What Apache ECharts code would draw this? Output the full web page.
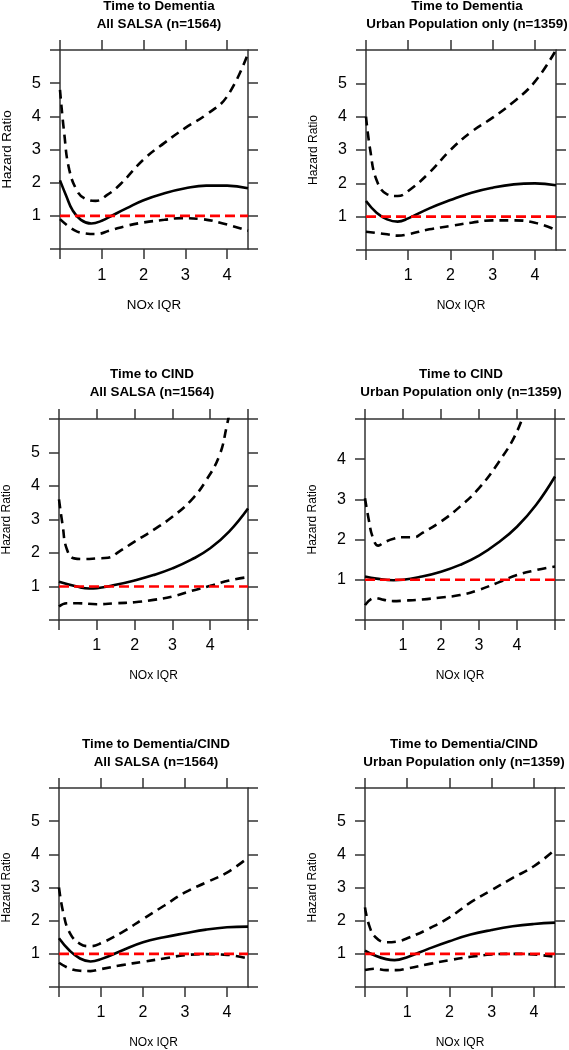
<!DOCTYPE html>
<html>
<head>
<meta charset="utf-8">
<script src="https://cdn.jsdelivr.net/npm/echarts@6/dist/echarts.min.js"></script>
<style>
html,body{margin:0;padding:0;background:#fff;}
#chart{width:569px;height:1050px;}
</style>
</head>
<body>
<div id="chart"></div>
<script>
// ---------- Titles ----------
const titleLine1 = ["Time to Dementia", "Time to Dementia", "Time to CIND", "Time to CIND", "Time to Dementia/CIND", "Time to Dementia/CIND"];
const titleLine2 = ["All SALSA (n=1564)", "Urban Population only (n=1359)", "All SALSA (n=1564)", "Urban Population only (n=1359)", "All SALSA (n=1564)", "Urban Population only (n=1359)"];
const xName = "NOx IQR";
const yName = "Hazard Ratio";

// ---------- Axis ranges / tick labels ----------
const xMax = [4.5, 4.5, 5, 5, 4.5, 4.5];
const yMax = [6, 6, 6, 5, 6, 6];
const xTickLabels = [1, 2, 3, 4];
const yTickLabels6 = [1, 2, 3, 4, 5];
const yTickLabels5 = [1, 2, 3, 4];
const referenceHR = 1;

// ---------- Panel 1: Dementia, All SALSA ----------
const p1EstX = [0, 0.15, 0.3, 0.5, 0.75, 1, 1.25, 1.6, 2, 2.5, 3, 3.5, 4, 4.5];
const p1EstY = [2.07, 1.6, 1.17, 0.88, 0.77, 0.85, 1.01, 1.23, 1.47, 1.68, 1.83, 1.91, 1.91, 1.83];
const p1UpX = [0, 0.1, 0.22, 0.42, 0.6, 0.85, 1.13, 1.45, 2, 2.5, 3, 3.5, 4, 4.5];
const p1UpY = [4.8, 3.5, 2.4, 1.73, 1.52, 1.45, 1.63, 1.96, 2.7, 3.2, 3.65, 4.05, 4.6, 5.9];
const p1LoX = [0, 0.34, 0.6, 0.86, 1.2, 1.6, 2, 2.5, 2.9, 3.4, 3.9, 4.5];
const p1LoY = [0.9, 0.57, 0.47, 0.45, 0.56, 0.7, 0.8, 0.88, 0.93, 0.9, 0.77, 0.55];

// ---------- Panel 2: Dementia, Urban ----------
const p2EstX = [0, 0.25, 0.5, 0.75, 1, 1.5, 2, 2.5, 3, 3.5, 4, 4.5];
const p2EstY = [1.47, 1.12, 0.92, 0.85, 0.95, 1.25, 1.5, 1.72, 1.87, 1.97, 2.0, 1.94];
const p2UpX = [0, 0.1, 0.25, 0.5, 0.75, 1, 1.5, 2, 2.5, 3, 3.5, 4, 4.5];
const p2UpY = [4.0, 3.0, 2.1, 1.67, 1.62, 1.77, 2.32, 3.0, 3.55, 3.97, 4.45, 5.05, 6.0];
const p2LoX = [0, 0.5, 0.75, 1, 1.5, 2, 2.5, 3, 3.5, 4, 4.5];
const p2LoY = [0.55, 0.47, 0.43, 0.47, 0.62, 0.72, 0.82, 0.89, 0.89, 0.82, 0.6];

// ---------- Panel 3: CIND, All SALSA ----------
const p3EstX = [0, 0.5, 0.8, 1, 1.5, 2, 2.5, 3, 3.5, 4, 4.5, 5];
const p3EstY = [1.14, 0.99, 0.94, 0.95, 1.05, 1.18, 1.34, 1.54, 1.8, 2.14, 2.64, 3.33];
const p3UpX = [0, 0.1, 0.2, 0.4, 0.7, 1, 1.3, 1.6, 2, 2.5, 3, 3.5, 3.9, 4.25, 4.43, 4.6];
const p3UpY = [3.6, 2.8, 2.14, 1.84, 1.82, 1.84, 1.86, 2.05, 2.34, 2.69, 3.08, 3.58, 4.18, 4.93, 5.75, 6.7];
const p3LoX = [0, 0.2, 0.5, 1, 1.5, 2, 2.5, 3, 3.5, 4, 4.5, 5];
const p3LoY = [0.4, 0.5, 0.5, 0.47, 0.5, 0.53, 0.6, 0.7, 0.87, 1.02, 1.18, 1.28];

// ---------- Panel 4: CIND, Urban ----------
const p4EstX = [0, 0.3, 0.75, 1, 1.5, 2, 2.5, 3, 3.5, 4, 4.5, 5];
const p4EstY = [1.08, 1.03, 0.99, 1.0, 1.08, 1.2, 1.37, 1.6, 1.92, 2.32, 2.86, 3.57];
const p4UpX = [0, 0.1, 0.2, 0.35, 0.5, 0.75, 1, 1.3, 1.5, 2, 2.5, 3, 3.5, 4, 4.3];
const p4UpY = [3.03, 2.49, 2.07, 1.85, 1.93, 2.02, 2.06, 2.06, 2.16, 2.45, 2.82, 3.28, 3.9, 4.69, 5.5];
const p4LoX = [0, 0.25, 0.5, 0.75, 1, 1.5, 2, 2.5, 3, 3.5, 4, 4.5, 5];
const p4LoY = [0.37, 0.55, 0.5, 0.47, 0.48, 0.51, 0.56, 0.62, 0.75, 0.93, 1.12, 1.24, 1.33];

// ---------- Panel 5: Dementia/CIND, All SALSA ----------
const p5EstX = [0, 0.25, 0.5, 0.75, 1, 1.5, 2, 2.5, 3, 3.5, 4, 4.5];
const p5EstY = [1.47, 1.1, 0.86, 0.77, 0.84, 1.1, 1.35, 1.5, 1.62, 1.73, 1.8, 1.82];
const p5UpX = [0, 0.1, 0.25, 0.5, 0.75, 1, 1.5, 2, 2.5, 3, 3.5, 4, 4.5];
const p5UpY = [3.0, 2.25, 1.65, 1.3, 1.23, 1.32, 1.65, 2.05, 2.45, 2.85, 3.15, 3.45, 3.9];
const p5LoX = [0, 0.25, 0.5, 0.75, 1, 1.5, 2, 2.5, 3, 3.5, 4, 4.5];
const p5LoY = [0.73, 0.56, 0.49, 0.48, 0.54, 0.66, 0.76, 0.86, 0.96, 0.99, 0.97, 0.86];

// ---------- Panel 6: Dementia/CIND, Urban ----------
const p6EstX = [0, 0.25, 0.5, 0.7, 1, 1.5, 2, 2.5, 3, 3.5, 4, 4.5];
const p6EstY = [1.1, 0.94, 0.84, 0.81, 0.9, 1.15, 1.38, 1.58, 1.72, 1.83, 1.9, 1.94];
const p6UpX = [0, 0.1, 0.25, 0.5, 0.75, 1, 1.5, 2, 2.5, 3, 3.5, 4, 4.5];
const p6UpY = [2.4, 1.85, 1.5, 1.35, 1.37, 1.47, 1.75, 2.1, 2.55, 2.92, 3.29, 3.64, 4.14];
const p6LoX = [0, 0.25, 0.5, 0.75, 1, 1.5, 2, 2.5, 3, 3.5, 4, 4.5];
const p6LoY = [0.51, 0.55, 0.51, 0.51, 0.56, 0.69, 0.81, 0.91, 0.98, 1.0, 0.98, 0.91];

// ---------- Assemble ----------
const panelData = [
  {est:[p1EstX,p1EstY], up:[p1UpX,p1UpY], lo:[p1LoX,p1LoY]},
  {est:[p2EstX,p2EstY], up:[p2UpX,p2UpY], lo:[p2LoX,p2LoY]},
  {est:[p3EstX,p3EstY], up:[p3UpX,p3UpY], lo:[p3LoX,p3LoY]},
  {est:[p4EstX,p4EstY], up:[p4UpX,p4UpY], lo:[p4LoX,p4LoY]},
  {est:[p5EstX,p5EstY], up:[p5UpX,p5UpY], lo:[p5LoX,p5LoY]},
  {est:[p6EstX,p6EstY], up:[p6UpX,p6UpY], lo:[p6LoX,p6LoY]}
];

// layout (pixels)
const grids = [
  {left:59,  top:50,  width:189, height:199},
  {left:366, top:50,  width:190, height:200},
  {left:58,  top:419, width:190, height:201},
  {left:365, top:419, width:190, height:201},
  {left:58,  top:788, width:190, height:201},
  {left:365, top:788, width:190, height:201}
];
const titleCX = [159, 467, 152, 461, 156, 464];
const titleCY1 = [6, 6, 374.5, 374.5, 744, 744];
const titleGap = 18;
const nameFont = [13.4, 12, 12, 12, 12, 12];
const tickFont = [16.5, 16, 16, 16, 16, 16];

const FONT = "'Liberation Sans', Arial, Helvetica, sans-serif";
const AX = '#333333';

function zip(xs, ys){ return xs.map((x,i)=>[x, ys[i]]); }
function range(a,b){ const r=[]; for(let i=a;i<=b;i++) r.push(i); return r; }

const option = {
  animation:false,
  backgroundColor:'#ffffff',
  textStyle:{fontFamily:FONT},
  grid: grids.map(g=>Object.assign({containLabel:false}, g)),
  xAxis:[], yAxis:[], series:[], graphic:[]
};

grids.forEach((g, i) => {
  const xTicks = range(0, Math.floor(xMax[i]));
  const yTicks = range(0, yMax[i]);
  const yLabs = yMax[i] === 6 ? yTickLabels6 : yTickLabels5;
  const axLine = {show:true, onZero:false, lineStyle:{color:AX, width:1.5}};
  const tick = {show:true, inside:false, length:10, lineStyle:{color:AX, width:1.5}};
  option.xAxis.push({
    type:'value', gridIndex:i, position:'bottom', min:0, max:xMax[i],
    axisLine:axLine, splitLine:{show:false},
    axisTick:Object.assign({customValues:xTicks}, tick),
    axisLabel:{customValues:xTickLabels, margin:18, color:'#000', fontSize:tickFont[i], fontFamily:FONT},
    name:xName, nameLocation:'middle', nameGap:50,
    nameTextStyle:{color:'#000', fontSize:nameFont[i], fontFamily:FONT}
  });
  option.xAxis.push({
    type:'value', gridIndex:i, position:'top', min:0, max:xMax[i],
    axisLine:axLine, splitLine:{show:false},
    axisTick:Object.assign({customValues:xTicks}, tick),
    axisLabel:{show:false}
  });
  option.yAxis.push({
    type:'value', gridIndex:i, position:'left', min:0, max:yMax[i],
    axisLine:axLine, splitLine:{show:false},
    axisTick:Object.assign({customValues:yTicks}, tick),
    axisLabel:{customValues:yLabs, margin:19, color:'#000', fontSize:tickFont[i], fontFamily:FONT},
    name:yName, nameLocation:'middle', nameGap:46,
    nameTextStyle:{color:'#000', fontSize:nameFont[i], fontFamily:FONT}
  });
  option.yAxis.push({
    type:'value', gridIndex:i, position:'right', min:0, max:yMax[i],
    axisLine:axLine, splitLine:{show:false},
    axisTick:Object.assign({customValues:yTicks}, tick),
    axisLabel:{show:false}
  });

  const d = panelData[i];
  const common = {type:'line', xAxisIndex:i*2, yAxisIndex:i*2, showSymbol:false, symbol:'none', smooth:0.45, clip:true, silent:true};
  option.series.push(Object.assign({}, common, {
    name:'upper'+i, data:zip(d.up[0], d.up[1]),
    lineStyle:{color:'#000', width:2.6, type:[9,6]}
  }));
  option.series.push(Object.assign({}, common, {
    name:'lower'+i, data:zip(d.lo[0], d.lo[1]),
    lineStyle:{color:'#000', width:2.6, type:[9,6]}
  }));
  option.series.push(Object.assign({}, common, {
    name:'est'+i, data:zip(d.est[0], d.est[1]),
    lineStyle:{color:'#000', width:2.6, type:'solid'}
  }));
  option.series.push(Object.assign({}, common, {
    name:'ref'+i, smooth:false, data:[[0, referenceHR],[xMax[i], referenceHR]],
    lineStyle:{color:'#ff0000', width:2.6, type:[10,5]}
  }));

  option.graphic.push({
    type:'text', x:titleCX[i], y:titleCY1[i],
    style:{text:titleLine1[i], align:'center', verticalAlign:'middle', fill:'#000',
      fontSize:13.4, fontWeight:'bold', fontFamily:FONT}
  });
  option.graphic.push({
    type:'text', x:titleCX[i], y:titleCY1[i]+titleGap,
    style:{text:titleLine2[i], align:'center', verticalAlign:'middle', fill:'#000',
      fontSize:13.4, fontWeight:'bold', fontFamily:FONT}
  });
});

const chart = echarts.init(document.getElementById('chart'), null, {renderer:'canvas', width:569, height:1050});
chart.setOption(option);
</script>
</body>
</html>
